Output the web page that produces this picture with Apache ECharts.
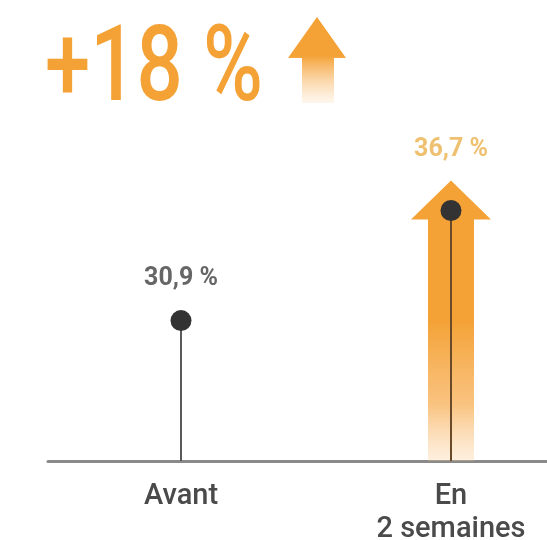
<!DOCTYPE html>
<html>
<head>
<meta charset="utf-8">
<script src="https://cdn.jsdelivr.net/npm/echarts@6/dist/echarts.min.js"></script>
<style>html,body{margin:0;padding:0;background:#fff}#c{width:547px;height:540px}</style>
</head>
<body>
<div id="c"></div>
<script>
const categories = ['Avant', 'En\n2 semaines'];
const values = [30.9, 36.7];
const valueLabels = ['30,9 %', '36,7 %'];
const headline = '+18 %';
const highlightIndex = 1;

const FONT = "Roboto, 'Noto Sans', sans-serif";
const ORANGE = '#F4A236';
const Y_MIN = 23.5, Y_MAX = 45;
const X_MIN = -0.4926, X_MAX = 1.3556;

// horizontal condensing of the headline so it fits the reference width
const HEAD_FONT = "500 106px " + FONT;
const ctx = document.createElement('canvas').getContext('2d');
ctx.font = HEAD_FONT;
const headScale = 218 / ctx.measureText(headline).width;

const chart = echarts.init(document.getElementById('c'));

function arrowItem(params, api) {
  const idx = api.value(0);
  if (idx !== highlightIndex) return null;
  const p = api.coord([idx, api.value(1)]);
  const b = api.coord([idx, Y_MIN]);
  const tip = p[1] - 30, hb = p[1] + 9, hw = 40, sw = 23, x = p[0];
  return {
    type: 'polygon',
    shape: { points: [[x, tip], [x + hw, hb], [x + sw, hb], [x + sw, b[1]], [x - sw, b[1]], [x - sw, hb], [x - hw, hb]] },
    style: {
      fill: new echarts.graphic.LinearGradient(0, 0, 0, 1, [
        { offset: 0, color: ORANGE },
        { offset: 0.5, color: ORANGE },
        { offset: 0.8, color: 'rgba(247,175,85,0.75)' },
        { offset: 1, color: 'rgba(250,205,150,0.3)' }
      ])
    }
  };
}

function stemItem(params, api) {
  const idx = api.value(0);
  const p = api.coord([idx, api.value(1)]);
  const b = api.coord([idx, Y_MIN]);
  return {
    type: 'line',
    shape: { x1: p[0], y1: p[1], x2: b[0], y2: b[1] },
    style: { stroke: idx === highlightIndex ? '#6b4a2a' : '#5a5a5a', lineWidth: 2 }
  };
}

const seriesData = values.map((v, i) => [i, v]);

chart.setOption({
  animation: false,
  backgroundColor: '#fff',
  grid: { left: 48, right: 0, top: 53, bottom: 79, outerBoundsMode: 'none', containLabel: false },
  xAxis: {
    type: 'value',
    min: X_MIN, max: X_MAX,
    splitLine: { show: false },
    axisLine: { show: true, onZero: false, lineStyle: { color: '#8a8a8a', width: 3 } },
    axisTick: { show: false },
    axisLabel: {
      customValues: categories.map((c, i) => i),
      formatter: v => categories[Math.round(v)] || '',
      color: '#4a4a4a', fontFamily: FONT, fontSize: 29, fontWeight: 500, margin: 19, lineHeight: 33
    }
  },
  yAxis: { type: 'value', min: Y_MIN, max: Y_MAX, show: false, splitLine: { show: false } },
  graphic: [
    {
      type: 'text', x: 45, y: 73, scaleX: headScale,
      style: { text: headline, fill: ORANGE, font: HEAD_FONT, verticalAlign: 'middle', align: 'left' }
    },
    {
      type: 'polygon',
      shape: { points: [[317, 17], [346, 58], [334, 58], [334, 103], [302, 103], [302, 58], [288, 58]] },
      style: {
        fill: new echarts.graphic.LinearGradient(0, 0, 0, 1, [
          { offset: 0, color: ORANGE },
          { offset: 0.45, color: ORANGE },
          { offset: 1, color: 'rgba(250,200,140,0.15)' }
        ])
      }
    }
  ],
  series: [
    { type: 'custom', renderItem: arrowItem, data: seriesData, z: 1, silent: true },
    { type: 'custom', renderItem: stemItem, data: seriesData, z: 2, silent: true },
    {
      type: 'scatter',
      data: values.map((v, i) => ({
        value: [i, v],
        label: {
          show: true,
          position: 'top',
          distance: i === highlightIndex ? 38 : 19,
          formatter: valueLabels[i],
          color: i === highlightIndex ? '#EEC070' : '#666',
          fontFamily: FONT, fontSize: 25, fontWeight: 'bold'
        }
      })),
      symbol: 'circle',
      symbolSize: 21,
      itemStyle: { color: '#333', opacity: 1 },
      z: 3
    }
  ]
});
</script>
</body>
</html>
